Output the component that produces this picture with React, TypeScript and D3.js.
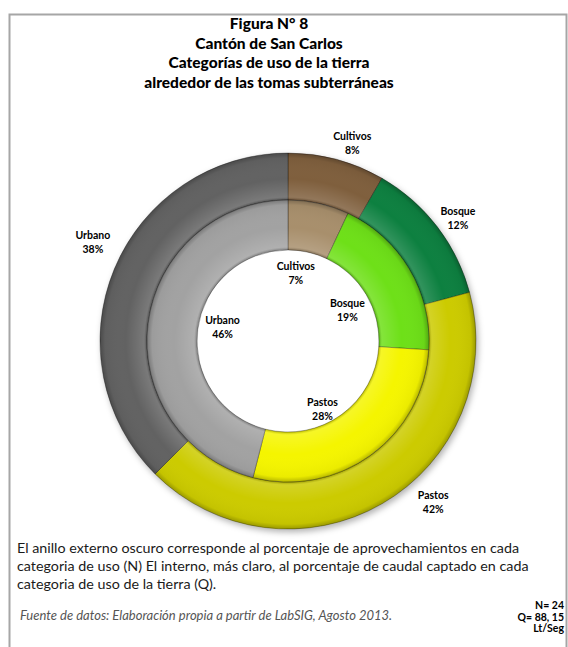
import React, { useRef, useEffect } from 'react';
import * as d3 from 'd3';

// categorías de uso de la tierra (orden horario desde arriba)
const categories = ['Cultivos', 'Bosque', 'Pastos', 'Urbano'];
// anillo externo: número de aprovechamientos (N = 24)
const outerCounts = [2, 3, 10, 9];
const outerPct = [8, 12, 42, 38];
// anillo interno: porcentaje de caudal captado (Q)
const innerPct = [7, 19, 28, 46];

const outerColors = ['#7f5e3e', '#11803f', '#cccb00', '#626262'];
const innerColors = ['#a88f6c', '#6ee018', '#f5f500', '#a2a2a2'];

const titleLines = [
  'Figura N° 8',
  'Cantón de San Carlos',
  'Categorías de uso de la tierra',
  'alrededor de las tomas subterráneas',
];
const noteLines = [
  'El anillo externo oscuro corresponde al porcentaje de aprovechamientos en cada',
  'categoria de uso (N)  El interno, más claro, al porcentaje de caudal captado en cada',
  'categoria de uso de la tierra (Q).',
];
const sourceText = 'Fuente de datos: Elaboración propia a partir de LabSIG, Agosto 2013.';
const statLines = ['N= 24', 'Q= 88, 15', 'Lt/Seg'];

// ajuste de etiquetas: giro (grados) respecto al centro del sector y radio
const outerLabelPos = [{ da: 3, r: 208 }, { da: 1.5, r: 210 }, { da: -12, r: 217 }, { da: 4.5, r: 219 }];
const innerLabelPos = [{ da: -6, r: 68 }, { da: 3, r: 67 }, { da: 9, r: 76 }, { da: 5, r: 67 }];

const DonutChart = () => {
  const svgRef = useRef<SVGSVGElement>(null);

  useEffect(() => {
    const svg = d3.select(svgRef.current);
    svg.selectAll('*').remove();

    const width = 568;
    const height = 647;
    const cx = 288;
    const cy = 341;
    const rHole = 91;
    const rMid = 141;
    const rOut = 188;

    svg.attr('width', width).attr('height', height);

    svg.append('rect')
      .attr('x', 9.5).attr('y', 14.5)
      .attr('width', 557).attr('height', 700)
      .attr('fill', 'white')
      .attr('stroke', '#a6a6a6')
      .attr('stroke-width', 2);

    const defs = svg.append('defs');
    const bevel = (id: string, r0: number, r1: number) => {
      const g = defs.append('radialGradient')
        .attr('id', id)
        .attr('gradientUnits', 'userSpaceOnUse')
        .attr('cx', 0).attr('cy', 0).attr('r', r1);
      const f = (r: number) => r / r1;
      const w = r1 - r0;
      g.append('stop').attr('offset', f(r0)).attr('stop-color', '#000').attr('stop-opacity', 0.25);
      g.append('stop').attr('offset', f(r0 + 3)).attr('stop-color', '#fff').attr('stop-opacity', 0.15);
      g.append('stop').attr('offset', f(r0 + w * 0.45)).attr('stop-color', '#fff').attr('stop-opacity', 0);
      g.append('stop').attr('offset', f(r1 - 5)).attr('stop-color', '#000').attr('stop-opacity', 0.04);
      g.append('stop').attr('offset', 1).attr('stop-color', '#000').attr('stop-opacity', 0.25);
    };
    bevel('bevelOuter', rMid, rOut);
    bevel('bevelInner', rHole, rMid);

    const shadow = defs.append('filter').attr('id', 'shadow')
      .attr('x', '-20%').attr('y', '-20%').attr('width', '140%').attr('height', '140%');
    shadow.append('feDropShadow')
      .attr('dx', 2).attr('dy', 3).attr('stdDeviation', 3)
      .attr('flood-color', '#000').attr('flood-opacity', 0.3);

    svg.append('g')
      .attr('font-family', 'Lato, "DejaVu Sans", sans-serif')
      .attr('font-weight', 900)
      .attr('font-size', 15.5)
      .attr('text-anchor', 'middle')
      .selectAll('text')
      .data(titleLines)
      .join('text')
      .attr('x', 269)
      .attr('y', (d, i) => 29 + i * 19.7)
      .text(d => d);

    const pie = d3.pie<number>().sort(null).value(d => d);
    const outerArcs = pie(outerCounts);
    const innerArcs = pie(innerPct);

    const arcOuter = d3.arc<d3.PieArcDatum<number>>().innerRadius(rMid).outerRadius(rOut);
    const arcInner = d3.arc<d3.PieArcDatum<number>>().innerRadius(rHole).outerRadius(rMid);

    const chart = svg.append('g').attr('transform', `translate(${cx},${cy})`);

    chart.append('g')
      .attr('filter', 'url(#shadow)')
      .selectAll('path')
      .data(outerArcs)
      .join('path')
      .attr('d', arcOuter)
      .attr('fill', (d, i) => outerColors[i])
      .attr('stroke', 'rgba(0,0,0,0.3)')
      .attr('stroke-width', 1);

    chart.append('g')
      .selectAll('path')
      .data(innerArcs)
      .join('path')
      .attr('d', arcInner)
      .attr('fill', (d, i) => innerColors[i])
      .attr('stroke', 'rgba(0,0,0,0.3)')
      .attr('stroke-width', 1);

    // sombreado de bisel
    const ring = d3.arc<any>();
    chart.append('path')
      .attr('d', ring({ innerRadius: rMid, outerRadius: rOut, startAngle: 0, endAngle: 2 * Math.PI }) as string)
      .attr('fill', 'url(#bevelOuter)');
    chart.append('path')
      .attr('d', ring({ innerRadius: rHole, outerRadius: rMid, startAngle: 0, endAngle: 2 * Math.PI }) as string)
      .attr('fill', 'url(#bevelInner)');

    const drawLabels = (arcs: d3.PieArcDatum<number>[], pcts: number[], pos: { da: number; r: number }[]) => {
      const g = chart.append('g')
        .attr('font-family', 'Lato, "DejaVu Sans", sans-serif')
        .attr('font-weight', 'bold')
        .attr('font-size', 10.5)
        .attr('text-anchor', 'middle');
      arcs.forEach((a, i) => {
        const ang = (a.startAngle + a.endAngle) / 2 + (pos[i].da * Math.PI) / 180;
        const x = Math.sin(ang) * pos[i].r;
        const y = -Math.cos(ang) * pos[i].r - 1;
        const t = g.append('text').attr('x', x).attr('y', y);
        t.append('tspan').attr('x', x).attr('dy', -2).text(categories[i]);
        t.append('tspan').attr('x', x).attr('dy', 14).text(`${pcts[i]}%`);
      });
    };
    drawLabels(outerArcs, outerPct, outerLabelPos);
    drawLabels(innerArcs, innerPct, innerLabelPos);

    svg.append('g')
      .attr('font-family', 'Lato, sans-serif')
      .attr('font-size', 14.3)
      .attr('fill', '#1a1a1a')
      .selectAll('text')
      .data(noteLines)
      .join('text')
      .attr('x', 17)
      .attr('y', (d, i) => 553 + i * 18)
      .text(d => d);

    svg.append('text')
      .attr('x', 20).attr('y', 620)
      .attr('font-family', 'Lato, sans-serif')
      .attr('font-style', 'italic')
      .attr('font-size', 13)
      .attr('fill', '#555')
      .text(sourceText);

    svg.append('g')
      .attr('font-family', 'Lato, "DejaVu Sans", sans-serif')
      .attr('font-weight', 'bold')
      .attr('font-size', 10.5)
      .attr('text-anchor', 'end')
      .selectAll('text')
      .data(statLines)
      .join('text')
      .attr('x', 564)
      .attr('y', (d, i) => 609 + i * 11.5)
      .text(d => d);
  }, []);

  return <svg ref={svgRef} style={{ position: 'absolute', left: 0, top: 0 }}></svg>;
};

export default function App() {
  return <DonutChart />;
}
